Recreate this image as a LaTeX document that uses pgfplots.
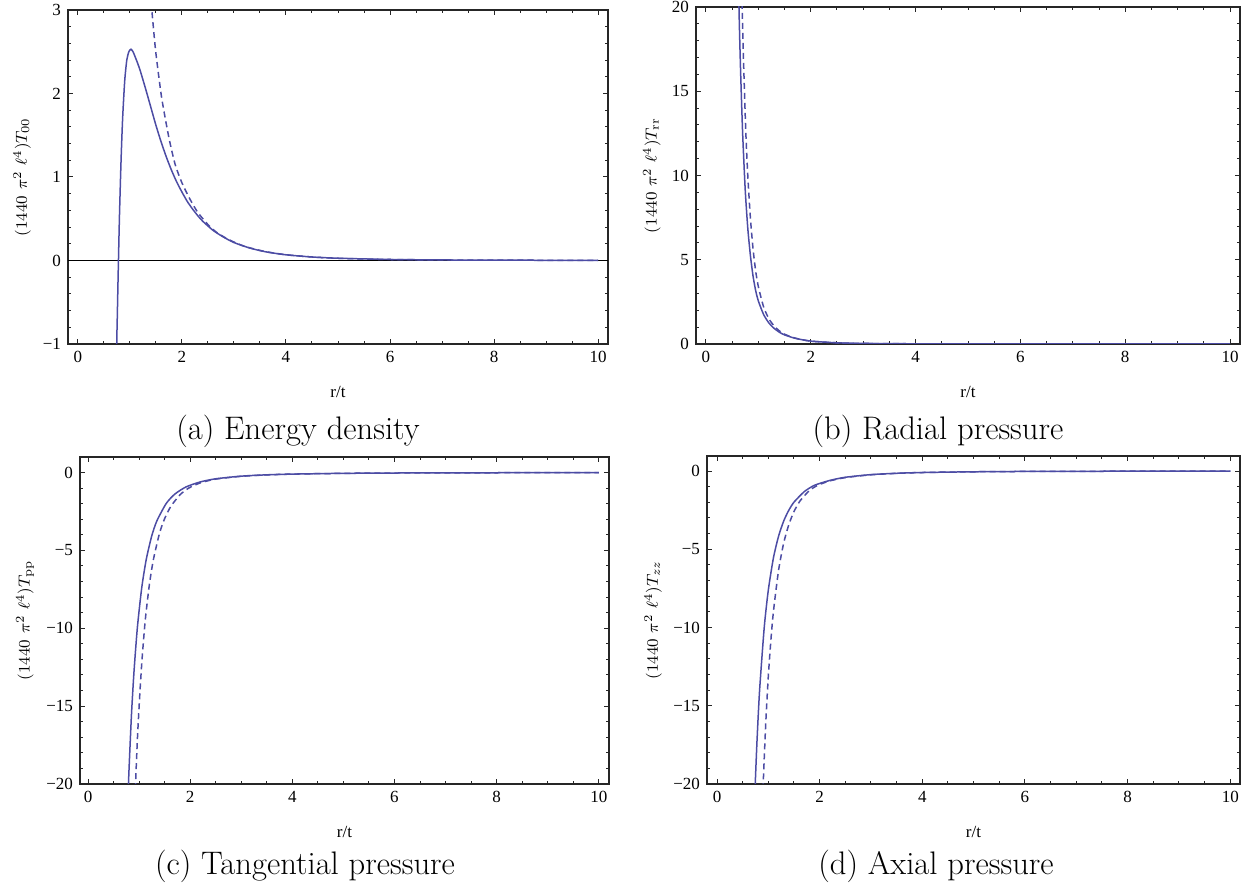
\documentclass[border=0pt]{standalone}
\usepackage{fontspec}
\usepackage{pgfplots}
\pgfplotsset{compat=1.18}
\newfontfamily\tickfont{Liberation Serif}
\definecolor{curve}{RGB}{76,76,164}
\pgfplotsset{
  panel/.style={
    scale only axis,
    anchor=south west,
    axis line style={line width=0.6pt, black!85},
    tick style={black!85, line width=0.5pt},
    major tick length=2.4pt,
    minor tick length=1.4pt,
    xtick={0,2,4,6,8,10},
    xticklabels={0,2,4,6,8,10},
    minor x tick num=3,
    minor y tick num=4,
    ticklabel style={font=\tickfont\fontsize{8.5}{9}\selectfont},
    xlabel={r/t},
    every axis x label/.style={font=\tickfont\fontsize{8.5}{9}\selectfont, at={(axis description cs:0.5,0)}, anchor=center, yshift=-24pt},
    every axis y label/.style={font=\fontsize{8.5}{9}\selectfont, rotate=90, anchor=center},
  },
  sol/.style={color=curve, line width=0.75pt, smooth, tension=0.4},
  das/.style={color=curve, line width=0.75pt, dash pattern=on 3pt off 2pt, smooth, tension=0.4},
}
\begin{document}
\begin{tikzpicture}
\useasboundingbox (0,0) rectangle (625pt,447pt);
% (a)
\begin{axis}[panel, at={(34pt,275pt)}, width=270pt, height=167pt,
  xmin=-0.19, xmax=10.19, ymin=-1, ymax=3,
  ytick={-1,0,1,2,3}, yticklabels={−1,0,1,2,3},
  ylabel={$(1440\ \pi^2\ \ell^4)T_{00}$},
  ylabel style={at={(axis description cs:-0.085,0.5)}}]
\addplot[black, line width=0.6pt] coordinates {(-0.19,0) (10.19,0)};
\addplot[sol] coordinates {(0.70,-4)(0.74,-1.3)(0.76,-0.6)(0.78,0)(0.80,0.55)(0.83,1.2)(0.86,1.7)(0.90,2.15)(0.94,2.4)(0.98,2.5)(1.02,2.53)(1.06,2.50)(1.10,2.44)(1.15,2.36)(1.2,2.27)(1.3,2.06)(1.4,1.84)(1.5,1.62)(1.6,1.42)(1.7,1.24)(1.8,1.08)(1.9,0.94)(2.0,0.82)(2.1,0.71)(2.2,0.62)(2.3,0.54)(2.4,0.47)(2.6,0.36)(2.8,0.28)(3.0,0.215)(3.3,0.15)(3.6,0.105)(4,0.068)(4.5,0.042)(5,0.027)(6,0.012)(7,0.0065)(8,0.0038)(10,0.0016)};
\addplot[das] coordinates {(1.36,3.45)(1.40,3.15)(1.45,2.8)(1.5,2.48)(1.61,1.95)(1.75,1.47)(1.87,1.15)(2.0,0.93)(2.15,0.74)(2.3,0.58)(2.5,0.43)(2.67,0.335)(2.9,0.25)(3.2,0.17)(3.6,0.107)(4,0.069)(4.5,0.042)(5,0.027)(6,0.012)(7,0.0065)(8,0.0038)(10,0.0016)};
\end{axis}
% (b)
\begin{axis}[panel, at={(348pt,275pt)}, width=272pt, height=168.5pt,
  xmin=-0.19, xmax=10.19, ymin=0, ymax=20,
  ytick={0,5,10,15,20}, yticklabels={0,5,10,15,20},
  ylabel={$(1440\ \pi^2\ \ell^4)T_{\mathrm{rr}}$},
  ylabel style={at={(axis description cs:-0.081,0.5)}}]
\addplot[sol] coordinates {(0.60,26)(0.63,20)(0.66,16.3)(0.70,12.5)(0.75,9.1)(0.80,6.8)(0.85,5.2)(0.90,4.0)(0.95,3.15)(1.0,2.55)(1.1,1.75)(1.2,1.25)(1.3,0.93)(1.4,0.7)(1.5,0.54)(1.7,0.34)(2.0,0.17)(2.5,0.07)(3,0.035)(4,0.011)(5,0.0045)(6,0.002)(8,0.0007)(10,0.0003)};
\addplot[das] coordinates {(0.66,24.4)(0.69,20)(0.72,16.5)(0.76,12.6)(0.80,9.9)(0.85,7.4)(0.90,5.6)(0.95,4.3)(1.0,3.4)(1.1,2.2)(1.2,1.5)(1.3,1.07)(1.4,0.78)(1.5,0.58)(1.7,0.35)(2.0,0.17)(2.5,0.07)(3,0.035)(4,0.011)(5,0.0045)(6,0.002)(8,0.0007)(10,0.0003)};
\end{axis}
% (c)
\begin{axis}[panel, at={(40pt,55pt)}, width=264.5pt, height=163.5pt,
  xmin=-0.157, xmax=10.2, ymin=-20, ymax=1,
  ytick={-20,-15,-10,-5,0}, yticklabels={−20,−15,−10,−5,0},
  ylabel={$(1440\ \pi^2\ \ell^4)T_{\mathrm{pp}}$},
  ylabel style={at={(axis description cs:-0.104,0.5)}}]
\addplot[sol] coordinates {(0.77,-22.0)(0.80,-19.3)(0.85,-15.6)(0.90,-12.8)(0.965,-10)(1.05,-7.44)(1.14,-5.58)(1.25,-4.04)(1.35,-3.09)(1.53,-1.99)(1.7,-1.38)(1.92,-0.92)(2.2,-0.6)(2.5,-0.4)(3.0,-0.23)(3.5,-0.145)(4,-0.098)(5,-0.05)(6,-0.029)(7,-0.018)(8,-0.012)(10,-0.006)};
\addplot[das] coordinates {(0.90,-22.9)(0.93,-20.05)(0.97,-16.9)(1.02,-13.9)(1.06,-11.9)(1.12,-9.5)(1.2,-7.23)(1.28,-5.59)(1.4,-3.9)(1.5,-2.96)(1.62,-2.18)(1.8,-1.43)(1.97,-1.0)(2.2,-0.66)(2.5,-0.42)(3.0,-0.24)(3.5,-0.15)(4,-0.1)(5,-0.051)(6,-0.029)(7,-0.018)(8,-0.012)(10,-0.006)};
\end{axis}
% (d)
\begin{axis}[panel, at={(353.5pt,55pt)}, width=266.5pt, height=164pt,
  xmin=-0.195, xmax=10.19, ymin=-20, ymax=0.96,
  ytick={-20,-15,-10,-5,0}, yticklabels={−20,−15,−10,−5,0},
  ylabel={$(1440\ \pi^2\ \ell^4)T_{zz}$},
  ylabel style={at={(axis description cs:-0.101,0.5)}}]
\addplot[sol] coordinates {(0.72,-22.4)(0.745,-20)(0.78,-17.2)(0.83,-14.0)(0.92,-10)(1.0,-7.6)(1.1,-5.54)(1.2,-4.16)(1.3,-3.19)(1.4,-2.5)(1.5,-1.99)(1.7,-1.32)(1.9,-0.91)(2.2,-0.6)(2.5,-0.4)(3,-0.23)(3.5,-0.145)(4,-0.095)(5,-0.05)(6,-0.028)(8,-0.012)(10,-0.006)};
\addplot[das] coordinates {(0.87,-22.9)(0.90,-20)(0.95,-16.1)(1.0,-13.1)(1.05,-10.8)(1.1,-8.96)(1.2,-6.33)(1.3,-4.59)(1.4,-3.42)(1.5,-2.59)(1.62,-1.9)(1.8,-1.25)(1.97,-0.9)(2.2,-0.63)(2.5,-0.42)(3,-0.24)(3.5,-0.15)(4,-0.097)(5,-0.05)(6,-0.028)(8,-0.012)(10,-0.006)};
\end{axis}
% captions
\node[anchor=base, font=\fontsize{16.3}{19}\selectfont] at (149pt,227pt) {(a) Energy density};
\node[anchor=base, font=\fontsize{16.3}{19}\selectfont] at (469pt,227pt) {(b) Radial pressure};
\node[anchor=base, font=\fontsize{16.3}{19}\selectfont] at (152.5pt,9.5pt) {(c) Tangential pressure};
\node[anchor=base, font=\fontsize{16.3}{19}\selectfont] at (468pt,9.5pt) {(d) Axial pressure};
\end{tikzpicture}
\end{document}
